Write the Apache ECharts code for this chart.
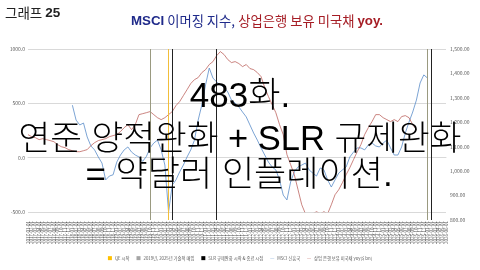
<!DOCTYPE html>
<html><head><meta charset="utf-8">
<script src="https://cdn.jsdelivr.net/npm/echarts@6/dist/echarts.min.js"></script>
<style>html,body{margin:0;padding:0;background:#fff}#c{width:480px;height:270px}</style>
</head><body><div id="c"></div>
<script>
// Monthly categories, Jan 2017 .. Jun 2026
const months = [];
for (let y = 2017; y <= 2026; y++) {
  for (let m = 1; m <= 12; m++) {
    if (y === 2026 && m > 6) break;
    months.push(y + '-' + String(m).padStart(2, '0'));
  }
}

// MSCI Emerging Markets index (right axis), from Jan 2018
const msciEM = [
  null,null,null,null,null,null,null,null,null,null,null,null,
  1270,1209,1189,1197,1140,1103,1087,1058,1033,964,980,985,
  1037,1066,1087,1099,1078,1066,1058,1040,1060,1095,1115,1127,
  1087,1025,833,943,964,997,1025,1058,1087,1127,1209,1271,
  1353,1422,1381,1365,1353,1344,1324,1291,1279,1263,1242,1222,
  1189,1156,1127,1095,1066,1037,1017,1005,964,902,882,956,
  997,1017,1025,1033,1005,992,980,1013,1005,964,935,964,
  992,1005,1017,1058,1078,1095,1095,1087,1107,1115,1103,1099,
  1115,1127,1095,1066,1066,1099,1156,1201,1242,1291,1361,1394,
  1381
];

// Commercial bank holdings of US Treasuries, yoy change ($ bn, left axis)
const bankUST = [
  212,193,184,166,175,166,157,147,120,101,92,74,
  64,55,55,64,74,110,138,157,166,175,193,203,
  212,240,276,304,258,304,396,405,414,424,396,368,
  350,368,396,424,479,516,571,626,682,718,737,783,
  810,857,884,939,976,949,903,875,884,866,838,857,
  820,810,783,746,645,562,488,414,304,212,28,-64,
  -157,-295,-433,-516,-534,-516,-497,-516,-497,-516,-433,-341,
  -295,-230,-157,-92,-18,55,120,212,276,332,396,396,
  368,350,332,350,332,378,387,368,304,258
];

// Vertical event markers
const qeStart = ['2020-03'];
const techPurchase = ['2019-10', '2026-01'];
const slrDates = ['2020-04', '2021-04', '2026-02'];

const leftTicks = { min: -500, max: 1000, interval: 500 };
const rightTicks = { min: 800, max: 1500, interval: 100 };

const FONT = '"Noto Sans CJK KR", "Noto Sans", sans-serif';
const BIG = '"Liberation Sans", "Noto Sans CJK KR", sans-serif';
const chart = echarts.init(document.getElementById('c'), null, { renderer: 'canvas' });

function vlines(list) {
  return list.map(d => ({ xAxis: d }));
}

const lineIcon = 'path://M0,4L16,4L16,5L0,5Z';

chart.setOption({
  animation: false,
  backgroundColor: '#fff',
  textStyle: { fontFamily: FONT },
  grid: [
    { left: 28, right: 34, top: 49, height: 163 },
    { left: 28, right: 34, top: 49, height: 171 }
  ],
  xAxis: [
    {
      type: 'category', gridIndex: 0, data: months, boundaryGap: false,
      axisLine: { lineStyle: { color: '#d9d9d9' } },
      axisTick: { show: false },
      axisLabel: { interval: 0, rotate: 90, fontSize: 4.5, color: '#595959', margin: 9,
        formatter: v => v + '-01' }
    },
    { type: 'category', gridIndex: 1, data: months, boundaryGap: false, show: false }
  ],
  yAxis: [
    {
      type: 'value', gridIndex: 0, position: 'left', ...leftTicks,
      axisLine: { show: false }, axisTick: { show: false },
      splitLine: { lineStyle: { color: '#d9d9d9', width: 1 } },
      axisLabel: { fontSize: 5, color: '#595959', margin: 3, formatter: v => v.toFixed(1) }
    },
    {
      type: 'value', gridIndex: 1, position: 'right', ...rightTicks,
      axisLine: { show: false }, axisTick: { show: false }, splitLine: { show: false },
      axisLabel: { fontSize: 5, color: '#595959', margin: 4,
        formatter: v => v.toLocaleString('en-US', { minimumFractionDigits: 2, maximumFractionDigits: 2 }) }
    }
  ],
  legend: {
    top: 251, left: 'center', itemWidth: 4, itemHeight: 4, itemGap: 7,
    textStyle: { fontSize: 4.3, color: '#595959', fontFamily: FONT, padding: [0, 0, 0, -2] },
    data: [
      { name: 'QE 시작', icon: 'rect' },
      { name: '2019년, 2025년 기술적 매입', icon: 'rect' },
      { name: 'SLR 규제완화 시작 & 종료 시점', icon: 'rect' },
      { name: 'MSCI 신흥국', icon: lineIcon, itemStyle: { color: '#5B8DC9' } },
      { name: '상업 은행 보유 미국채 yoy($ bn)', icon: lineIcon, itemStyle: { color: '#B5504A' } }
    ]
  },
  series: [
    {
      name: 'QE 시작', type: 'line', xAxisIndex: 1, yAxisIndex: 1, data: [],
      itemStyle: { color: '#FFC000' },
      markLine: { silent: true, symbol: 'none', label: { show: false },
        lineStyle: { color: '#F2BE3A', type: 'solid', width: 1 }, data: vlines(qeStart) }
    },
    {
      name: '2019년, 2025년 기술적 매입', type: 'line', xAxisIndex: 1, yAxisIndex: 1, data: [],
      itemStyle: { color: '#A5A5A5' },
      markLine: { silent: true, symbol: 'none', label: { show: false },
        lineStyle: { color: '#9a9a80', type: 'solid', width: 1 }, data: vlines(techPurchase) }
    },
    {
      name: 'SLR 규제완화 시작 & 종료 시점', type: 'line', xAxisIndex: 1, yAxisIndex: 1, data: [],
      itemStyle: { color: '#000' },
      markLine: { silent: true, symbol: 'none', label: { show: false },
        lineStyle: { color: '#222', type: 'solid', width: 1 }, data: vlines(slrDates) }
    },
    {
      name: 'MSCI 신흥국', type: 'line', xAxisIndex: 1, yAxisIndex: 1, data: msciEM,
      showSymbol: false, symbol: 'none', connectNulls: false,
      itemStyle: { color: '#5B8DC9' }, lineStyle: { color: '#5B8DC9', width: 0.8 }
    },
    {
      name: '상업 은행 보유 미국채 yoy($ bn)', type: 'line', xAxisIndex: 0, yAxisIndex: 0, data: bankUST,
      showSymbol: false, symbol: 'none',
      itemStyle: { color: '#B5504A' }, lineStyle: { color: '#B5504A', width: 0.7 }
    }
  ],
  graphic: [
    { type: 'text', left: 5, top: 6,
      style: {
        text: '{n|그래프 }{d|25}',
        rich: {
          n: { font: '13.5px ' + FONT, fill: '#222' },
          d: { font: 'bold 13.5px "Liberation Sans", sans-serif', fill: '#222' }
        }
      } },
    { type: 'text', x: 257, y: 21,
      style: {
        text: '{bb|MSCI}{bn| 이머징 지수,} {rn|상업은행 보유 미국채 }{rb|yoy.}',
        rich: {
          bb: { font: 'bold 13.3px "Liberation Sans", sans-serif', fill: '#1F2A8A' },
          bn: { font: '13.3px ' + FONT, fill: '#1F2A8A' },
          rn: { font: '13.3px ' + FONT, fill: '#A51C24' },
          rb: { font: 'bold 13.3px "Liberation Sans", sans-serif', fill: '#A51C24' }
        },
        align: 'center', verticalAlign: 'middle'
      } },
    { type: 'text', x: 240, y: 97, z: 100,
      style: { text: '483화.', font: '300 35px ' + BIG, fill: '#000', align: 'center', verticalAlign: 'middle' } },
    { type: 'text', x: 240, y: 140, z: 100,
      style: { text: '연준 양적완화 + SLR 규제완화', font: '300 34.5px ' + BIG, fill: '#000', align: 'center', verticalAlign: 'middle' } },
    { type: 'text', x: 239, y: 176, z: 100,
      style: { text: '= 약달러 인플레이션.', font: '300 35px ' + BIG, fill: '#000', align: 'center', verticalAlign: 'middle' } }
  ]
});
</script></body></html>
